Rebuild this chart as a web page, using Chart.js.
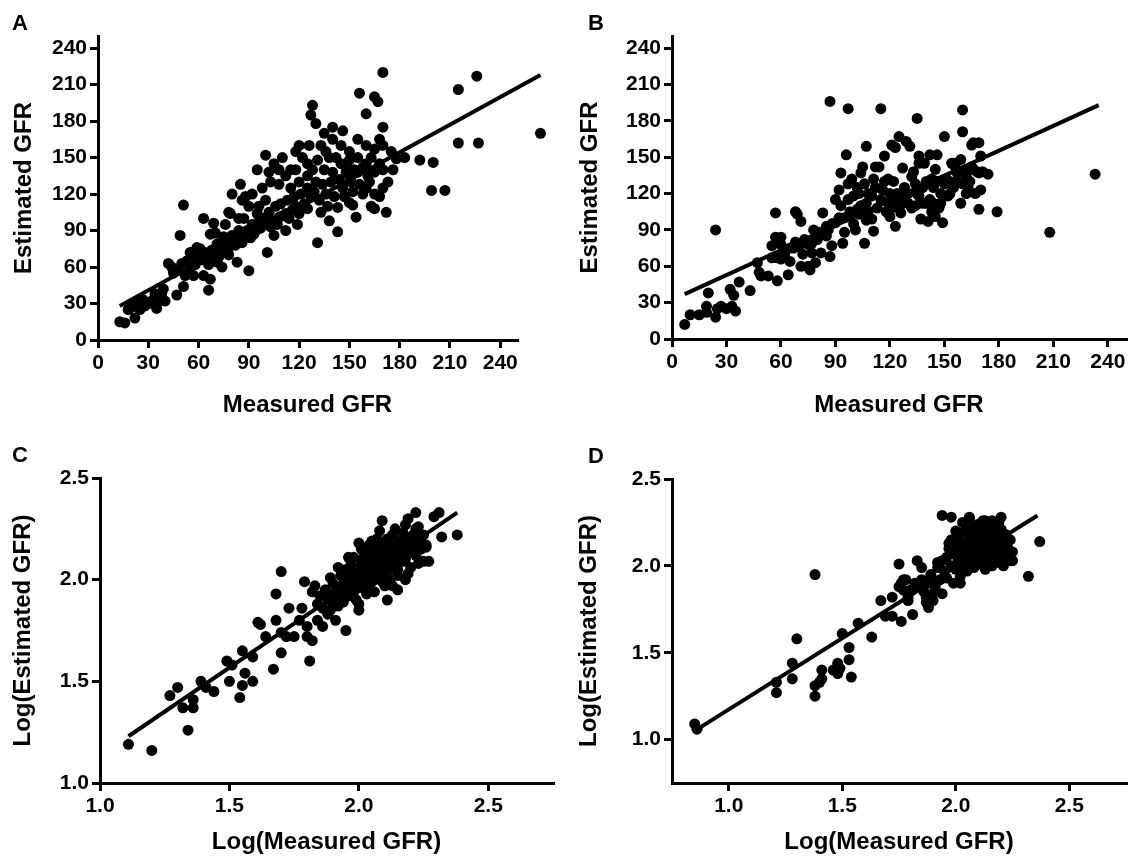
<!DOCTYPE html>
<html>
<head>
<meta charset="utf-8">
<script src="https://cdn.jsdelivr.net/npm/chart.js@4.4.0/dist/chart.umd.min.js"></script>
<style>
  html, body { margin: 0; padding: 0; background: #fff; }
  #wrap { position: relative; width: 1133px; height: 862px; }
  .panel { position: absolute; }
</style>
</head>
<body>
<div id="wrap">
  <div class="panel" style="left:0;top:0;width:566px;height:431px"><canvas id="chartA"></canvas></div>
  <div class="panel" style="left:566px;top:0;width:567px;height:431px"><canvas id="chartB"></canvas></div>
  <div class="panel" style="left:0;top:431px;width:566px;height:431px"><canvas id="chartC"></canvas></div>
  <div class="panel" style="left:566px;top:431px;width:567px;height:431px"><canvas id="chartD"></canvas></div>
</div>
<script>
// tick values
const gfrTicks = [0, 30, 60, 90, 120, 150, 180, 210, 240];
const logTicks = [1.0, 1.5, 2.0, 2.5];

// panel A: measured vs estimated GFR
const pointsA = [
  [13,15],[16,14],[22,18],[20,27],[24,32],[28,28],[32,32],[35,26],[36,32],[38,38],[40,32],[34,38],[39,42],[18,25],[25,25],[30,30],[27,33],[22,30],
  [42,63],[44,60],[47,37],[49,86],[51,111],[50,63],[51,44],[52,53],[55,72],[55,60],[57,53],[61,75],[63,100],[63,53],[66,41],[67,50],[69,96],[67,87],
  [71,64],[74,60],[71,79],[75,85],[79,104],[83,64],[81,82],[85,87],[86,115],[90,57],[93,87],[95,104],[101,72],[103,93],[105,86],[108,101],[112,104],
  [116,107],[120,104],[131,80],[138,98],[143,89],[143,109],[152,111],[154,101],[150,113],
  [45,55],[48,58],[53,65],[56,68],[58,62],[60,70],[62,66],[64,72],[65,68],[68,74],[70,70],[72,76],[73,80],[74,72],[76,78],[77,82],[78,76],[80,80],
  [82,78],[84,84],[86,80],[88,86],[89,90],[91,84],[92,95],[94,90],[96,98],[97,92],[99,100],[100,95],[102,105],[104,98],[106,110],[107,95],[109,112],
  [110,102],[113,115],[114,100],[117,118],[118,110],[121,120],[123,112],[125,125],[127,118],[129,122],[132,115],[134,128],[136,120],[139,130],[141,118],
  [144,132],[146,125],[148,138],[151,130],[153,140],[156,128],[158,142],[161,135],[163,150],[165,138],
  [56,72],[59,76],[66,62],[69,66],[72,68],[78,70],[80,86],[84,90],[87,100],
  [264,170],[226,217],[215,206],[170,220],[165,200],[167,196],[156,203],[160,186],[215,162],[227,162],[199,123],[207,123],[192,148],[200,146],[183,150],
  [178,149],[170,175],[168,165],[165,157],[168,145],[170,140],[162,130],[165,120],[160,125],[128,193],[127,185],[130,178],[135,170],[140,165],[133,160],
  [145,160],[150,155],[138,150],[155,150],[145,145],[100,152],[105,145],[110,150],[95,140],[103,130],[115,140],[118,155],[120,160],[122,150],[125,145],
  [125,135],[130,130],[85,128],[88,118],[90,110],[80,120],[78,105],[92,120],[98,125],[108,128],[112,135],[115,125],[120,130],[128,140],[135,140],
  [140,138],[142,150],[148,145],[150,135],[155,138],[158,120],[152,122],[147,118],[137,110],[133,105],[125,108],[119,95],[112,90],[100,115],[96,110],
  [84,100],[76,95],[70,88],[140,175],[136,155],[131,148],[126,160],[118,140],[108,140],[102,138],[146,172],[150,148],[160,145],[163,110],[168,118],
  [170,125],[172,105],[173,130],[176,140],[165,108],[175,155],[170,160],[160,160],[155,165]
];
const lineA = [[13,28],[264,218]];

// panel B
const pointsB = [
  [7,12],[10,20],[15,20],[19,27],[20,38],[19,22],[24,18],[25,25],[27,27],[30,25],[32,41],[33,27],[34,36],[35,23],[37,47],[24,90],[43,40],[47,63],
  [48,55],[49,52],[53,52],[55,67],[55,77],[57,104],[57,84],[58,48],[60,84],[60,66],[64,53],[65,64],[67,75],[68,105],[69,103],[70,77],[71,97],[71,60],
  [73,82],[75,60],[76,57],[77,71],[77,79],[79,63],[78,90],[81,88],[82,71],[83,104],[85,93],[86,90],[87,68],[88,77],[87,196],[90,96],[90,115],[92,123],
  [93,137],[94,79],[95,88],[96,152],[97,190],[97,115],[99,132],[101,90],[102,107],[103,103],[104,137],[105,142],[106,79],[107,159],[107,112],[108,120],
  [110,99],[111,89],[112,142],[114,142],[115,190],[116,123],[117,151],[119,132],[120,101],[121,160],[122,115],[123,93],[123,158],[124,120],[125,167],
  [126,104],[127,141],[129,163],[130,112],[131,159],[132,134],[134,110],[135,182],[136,145],[136,151],[137,99],[138,112],[141,97],[142,152],[143,132],
  [144,112],[145,101],[146,152],[148,112],[149,96],[150,167],[151,132],[153,120],[154,145],[157,137],[159,112],[160,189],[160,171],[161,137],[162,120],
  [165,142],[166,162],[167,120],[169,162],[169,107],[169,137],[170,151],[170,123],[174,136],[179,105],[208,88],[233,136],
  [95,100],[98,105],[100,118],[102,125],[104,110],[106,128],[108,105],[110,118],[112,125],[113,108],[115,115],[117,130],[118,105],[120,120],[122,130],
  [124,110],[126,118],[128,125],[130,120],[132,108],[134,128],[136,118],[138,125],[140,130],[142,115],[144,125],[146,130],[148,120],[150,128],[152,118],
  [155,125],[157,130],[160,128],[162,135],[164,130],[166,140],[168,138],[145,140],[140,112],[135,120],[128,115],[125,108],[100,95],[92,100],[88,95],
  [85,85],[80,82],[75,78],[72,70],[68,80],[65,75],[62,70],[60,78],[58,67],[93,110],[97,128],[103,120],[107,98],[111,132],[119,112],[121,108],[127,112],
  [133,138],[139,145],[143,105],[147,108],[153,130],[156,142],[159,148],[163,125],[171,138],[165,160],[155,145]
];
const lineB = [[7,37],[235,193]];

// panel C: log values
const pointsC = [
  [1.11,1.19],[1.20,1.16],[1.27,1.43],[1.30,1.47],[1.32,1.37],[1.34,1.26],[1.36,1.37],[1.36,1.41],[1.39,1.50],[1.41,1.47],[1.44,1.45],[1.49,1.60],
  [1.50,1.50],[1.51,1.58],[1.54,1.42],[1.55,1.65],[1.55,1.48],[1.56,1.54],[1.59,1.62],[1.59,1.50],[1.61,1.79],[1.62,1.78],[1.64,1.72],[1.67,1.56],
  [1.68,1.93],[1.68,1.80],[1.70,2.04],[1.70,1.64],[1.70,1.74],[1.72,1.72],[1.73,1.86],[1.75,1.72],[1.77,1.80],[1.78,1.86],[1.79,1.99],[1.80,1.77],
  [1.80,1.72],[1.81,1.60],[1.82,1.70],[1.82,1.94],[1.83,1.97],[1.84,1.80],[1.86,1.77],[1.88,1.83],[1.89,2.01],[1.91,1.80],[1.92,2.06],[1.95,1.75],
  [1.96,2.11],[2.00,2.18],[2.00,1.85],[2.09,2.29],[2.11,1.90],[2.15,1.95],[2.18,2.00],[2.19,2.30],[2.22,2.33],[2.25,2.09],[2.27,2.09],[2.29,2.31],
  [2.31,2.33],[2.32,2.21],[2.38,2.22],[2.26,2.16],[2.23,2.26],
  [1.86,1.86],[1.88,1.90],[1.89,1.85],[1.90,1.93],[1.91,1.88],[1.92,1.96],[1.93,1.91],[1.94,1.98],[1.94,1.89],[1.95,1.95],[1.96,2.02],[1.96,1.92],
  [1.97,1.98],[1.98,2.04],[1.98,1.94],[1.99,2.00],[2.00,2.06],[2.00,1.96],[2.01,2.02],[2.01,2.10],[2.02,1.98],[2.02,2.05],[2.03,2.12],[2.03,2.00],
  [2.04,2.07],[2.04,1.96],[2.05,2.03],[2.05,2.14],[2.06,2.09],[2.06,2.00],[2.07,2.05],[2.07,2.16],[2.08,2.11],[2.08,2.02],[2.09,2.07],[2.09,2.18],
  [2.10,2.13],[2.10,2.03],[2.11,2.09],[2.11,2.20],[2.12,2.15],[2.12,2.05],[2.13,2.11],[2.13,2.22],[2.14,2.17],[2.14,2.07],[2.15,2.13],[2.15,2.02],
  [2.16,2.19],[2.16,2.09],[2.17,2.14],[2.17,2.23],[2.18,2.10],[2.18,2.18],[2.19,2.13],[2.20,2.21],[2.20,2.06],[2.21,2.16],[2.22,2.12],[2.23,2.19],
  [2.24,2.15],[1.97,2.08],[1.99,1.90],[2.03,1.93],[2.06,1.94],[2.09,1.99],[2.12,2.00],[2.05,2.19],[2.08,2.24],[2.01,2.15],[1.95,2.05],[1.93,2.02],
  [1.90,1.98],[1.87,1.95],[1.85,1.92],[1.84,1.88],[2.14,2.25],[2.18,2.27],[2.22,2.25],[2.25,2.22],[2.26,2.17],[2.15,2.05],[2.10,1.97],[2.07,2.20],
  [2.04,2.17],[1.98,2.11],[1.92,1.87],[2.00,1.88],[2.13,1.97],[2.19,2.03],[2.23,2.08],
  [1.97,2.01],[1.99,2.05],[2.02,2.08],[2.04,2.02],[2.05,2.08],[2.06,2.12],[2.08,2.07],[2.09,2.14],[2.10,2.08],[2.11,2.17],[2.12,2.11],[2.13,2.16],
  [2.14,2.12],[2.15,2.18],[2.16,2.15],[2.17,2.09],[2.19,2.19],[2.20,2.14],[2.21,2.22],[2.22,2.17],[2.03,2.06],[2.07,2.10],[2.11,2.12],[2.00,2.01],
  [1.96,1.97],[2.05,1.99],[2.09,2.03],[2.13,2.06]
];
const lineC = [[1.11,1.23],[2.38,2.33]];

// panel D
const pointsD = [
  [0.85,1.09],[0.86,1.06],[1.21,1.33],[1.21,1.27],[1.28,1.44],[1.28,1.35],[1.30,1.58],[1.38,1.31],[1.38,1.25],[1.38,1.95],[1.40,1.33],[1.41,1.40],
  [1.41,1.35],[1.46,1.40],[1.48,1.44],[1.48,1.38],[1.49,1.41],[1.50,1.61],[1.53,1.53],[1.53,1.46],[1.54,1.36],[1.57,1.67],[1.63,1.59],[1.67,1.80],
  [1.69,1.71],[1.72,1.82],[1.72,1.71],[1.75,1.88],[1.75,2.01],[1.76,1.68],[1.77,1.92],[1.79,1.80],[1.81,1.72],[1.83,2.03],[1.85,1.99],[1.84,1.88],
  [1.87,1.82],[1.88,1.76],[1.90,1.80],[1.92,2.02],[1.94,2.29],[1.94,1.84],[1.98,2.28],[2.02,1.90],[2.06,2.28],[2.13,2.26],[2.20,2.28],[2.25,2.03],
  [2.32,1.94],[2.37,2.14],
  [1.95,1.97],[1.96,2.05],[1.97,2.10],[1.98,2.00],[1.98,2.15],[1.99,2.07],[2.00,2.12],[2.00,1.98],[2.01,2.18],[2.01,2.04],[2.02,2.09],[2.03,2.14],
  [2.03,2.00],[2.04,2.06],[2.04,2.20],[2.05,2.11],[2.05,1.97],[2.06,2.16],[2.06,2.03],[2.07,2.08],[2.07,2.22],[2.08,2.13],[2.08,1.99],[2.09,2.18],
  [2.09,2.05],[2.10,2.10],[2.10,2.24],[2.11,2.15],[2.11,2.01],[2.12,2.07],[2.12,2.20],[2.13,2.12],[2.13,1.98],[2.14,2.17],[2.14,2.04],[2.15,2.09],
  [2.15,2.22],[2.16,2.14],[2.16,2.00],[2.17,2.19],[2.17,2.06],[2.18,2.11],[2.18,2.24],[2.19,2.16],[2.19,2.02],[2.20,2.08],[2.20,2.21],[2.21,2.13],
  [2.21,2.00],[2.22,2.18],[2.22,2.05],[2.23,2.10],[2.24,2.15],[2.24,2.03],[2.25,2.08],[1.93,1.92],[1.91,1.88],[1.89,1.95],[1.92,1.99],[1.94,2.03],
  [1.96,1.93],[1.99,1.90],[2.02,1.94],[2.03,2.25],[2.00,2.20],[1.97,2.13],[2.06,2.27],[2.12,2.26],[2.16,2.26],[2.19,2.25],[1.86,1.85],[1.88,1.90],
  [1.90,1.84],[1.87,1.79],[1.85,1.92],[1.82,1.90],[1.80,1.86],[1.78,1.92],[1.76,1.90],[1.79,1.82],[1.77,1.86]
];
const lineD = [[0.85,1.05],[2.36,2.29]];

const dotRadius = 5.5;

Chart.defaults.font.family = '"Liberation Sans", Arial, Helvetica, sans-serif';
Chart.defaults.font.weight = 'bold';
Chart.defaults.color = '#000';

const toXY = arr => arr.map(p => ({ x: p[0], y: p[1] }));

const letterPlugin = {
  id: 'panelLetter',
  afterDraw(chart, args, opts) {
    const ctx = chart.ctx;
    ctx.save();
    ctx.font = 'bold 22px "Liberation Sans", Arial, sans-serif';
    ctx.fillStyle = '#000';
    ctx.textBaseline = 'alphabetic';
    ctx.fillText(opts.text, opts.x, opts.y);
    ctx.restore();
  }
};

// Chart.js skips points outside the chart area; the original plot shows
// one point past the end of the x axis, so draw those through the scales
const outsidePlugin = {
  id: 'outsidePoints',
  afterDatasetsDraw(chart) {
    const xs = chart.scales.x, ys = chart.scales.y;
    const ctx = chart.ctx;
    ctx.save();
    ctx.fillStyle = '#000';
    chart.data.datasets[0].data.forEach(p => {
      if (p.x > xs.max || p.y > ys.max) {
        ctx.beginPath();
        ctx.arc(xs.getPixelForValue(p.x), ys.getPixelForValue(p.y), dotRadius, 0, Math.PI * 2);
        ctx.fill();
      }
    });
    ctx.restore();
  }
};

function axis(min, max, ticks, fmt, title, titlePad, size, isX) {
  return {
    type: 'linear',
    min: min,
    max: max,
    afterBuildTicks: s => { s.ticks = ticks.map(v => ({ value: v })); },
    afterFit: s => { if (isX) s.height = size; else s.width = size; },
    border: { display: true, color: '#000', width: 3 },
    grid: { display: true, drawOnChartArea: false, drawTicks: true, tickLength: 8, color: '#000', lineWidth: 3 },
    ticks: { color: '#000', padding: 3, font: { size: 21, weight: 'bold' }, callback: fmt, maxRotation: 0, autoSkip: false },
    title: { display: true, text: title, color: '#000', font: { size: 24, weight: 'bold' }, padding: titlePad }
  };
}

function panel(id, letter, points, line, cfg) {
  new Chart(document.getElementById(id), {
    type: 'scatter',
    data: {
      datasets: [
        { data: toXY(points), pointRadius: dotRadius, pointHoverRadius: dotRadius, backgroundColor: '#000', borderWidth: 0, clip: false },
        { data: toXY(line), showLine: true, borderColor: '#000', borderWidth: 4, pointRadius: 0, fill: false, clip: false }
      ]
    },
    options: {
      responsive: true,
      maintainAspectRatio: false,
      animation: false,
      layout: { padding: { top: cfg.padTop, right: cfg.padRight, left: 0, bottom: 0 } },
      plugins: {
        legend: { display: false },
        tooltip: { enabled: false },
        panelLetter: letter
      },
      scales: {
        x: axis(cfg.xMin, cfg.xMax, cfg.xTicks, cfg.fmt, cfg.xTitle, { bottom: cfg.xTitlePad }, cfg.xHeight, true),
        y: axis(cfg.yMin, cfg.yMax, cfg.yTicks, cfg.fmt, cfg.yTitle, { top: cfg.yTitlePad }, cfg.yWidth, false)
      }
    },
    plugins: [letterPlugin, outsidePlugin]
  });
}

const intFmt = v => String(v);
const logFmt = v => Number(v).toFixed(1);

panel('chartA', { text: 'A', x: 12, y: 30 }, pointsA, lineA, {
  xMin: 0, xMax: 250, yMin: 0, yMax: 250, xTicks: gfrTicks, yTicks: gfrTicks, fmt: intFmt,
  xTitle: 'Measured GFR', yTitle: 'Estimated GFR', padTop: 36, padRight: 49, xHeight: 91, yWidth: 98, xTitlePad: 11, yTitlePad: 10
});
panel('chartB', { text: 'B', x: 22, y: 30 }, pointsB, lineB, {
  xMin: 0, xMax: 250, yMin: 0, yMax: 250, xTicks: gfrTicks, yTicks: gfrTicks, fmt: intFmt,
  xTitle: 'Measured GFR', yTitle: 'Estimated GFR', padTop: 36, padRight: 7, xHeight: 92, yWidth: 106, xTitlePad: 11, yTitlePad: 10
});
panel('chartC', { text: 'C', x: 12, y: 31 }, pointsC, lineC, {
  xMin: 1.0, xMax: 2.75, yMin: 1.0, yMax: 2.5, xTicks: logTicks, yTicks: logTicks, fmt: logFmt,
  xTitle: 'Log(Measured GFR)', yTitle: 'Log(Estimated GFR)', padTop: 47, padRight: 13, xHeight: 79, yWidth: 100, xTitlePad: 5, yTitlePad: 9
});
panel('chartD', { text: 'D', x: 22, y: 32 }, pointsD, lineD, {
  xMin: 0.75, xMax: 2.75, yMin: 0.75, yMax: 2.5, xTicks: logTicks, yTicks: logTicks, fmt: logFmt,
  xTitle: 'Log(Measured GFR)', yTitle: 'Log(Estimated GFR)', padTop: 48, padRight: 7, xHeight: 79, yWidth: 106, xTitlePad: 5, yTitlePad: 9
});
</script>
</body>
</html>
